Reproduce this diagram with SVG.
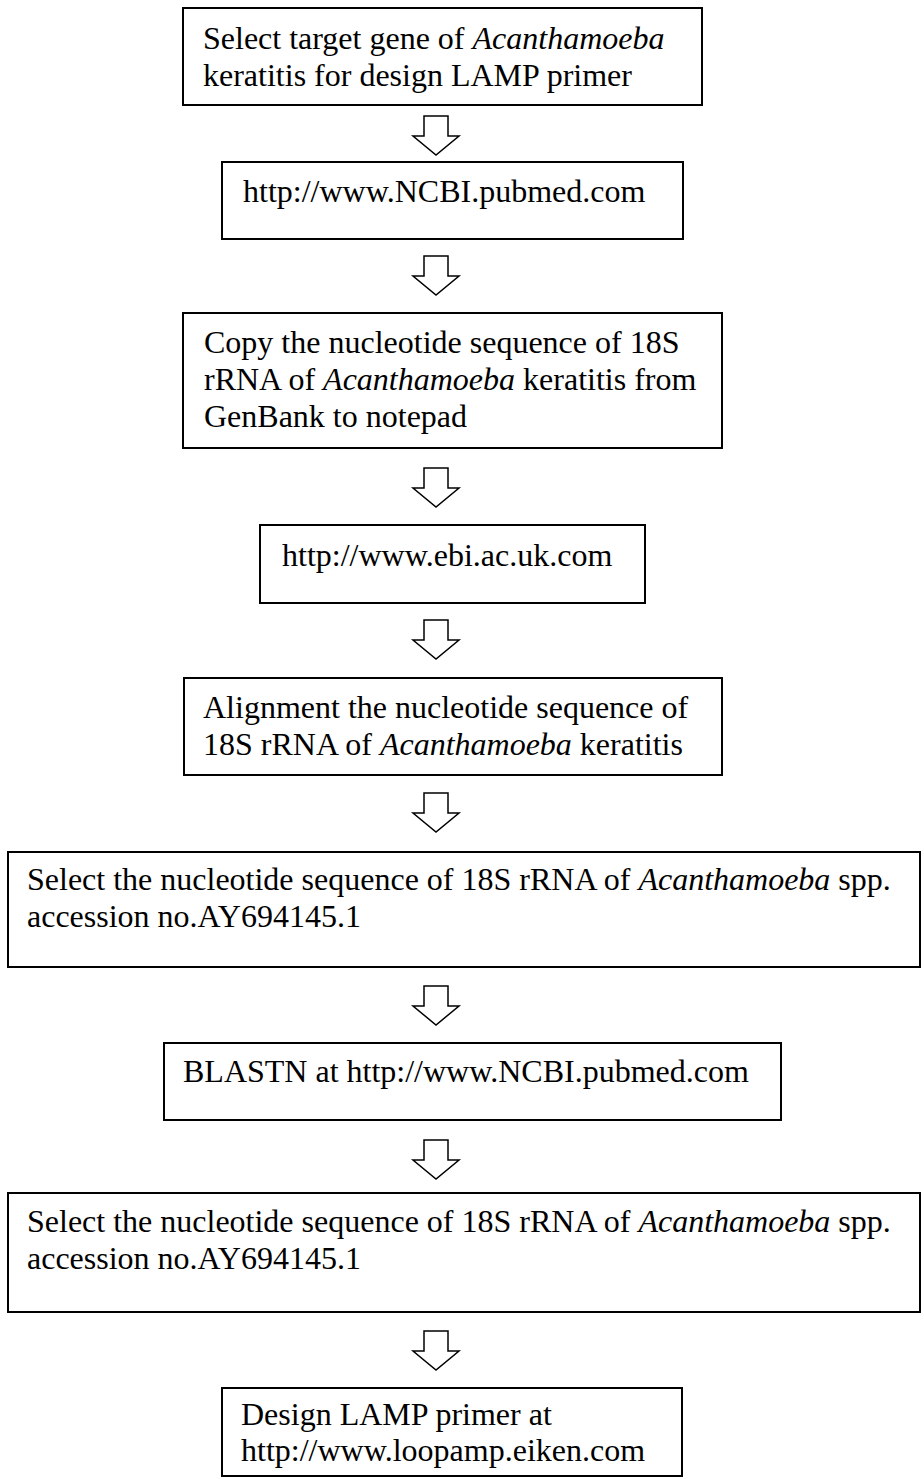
<svg xmlns="http://www.w3.org/2000/svg" width="924" height="1479" viewBox="0 0 924 1479">
<style>
.box{fill:#fff;stroke:#000;stroke-width:2}
.arr{fill:#fff;stroke:#000;stroke-width:1.5;stroke-linejoin:miter}
text{font-family:"Liberation Serif","Times New Roman",serif;font-size:32px;fill:#000}
.i{font-style:italic}
</style>
<rect width="924" height="1479" fill="#fff"/>
<g id="connectors">
<path class="arr" d="M424,116H448V136H459L436,155L413,136H424Z"/>
<path class="arr" d="M424,256H448V276H459L436,295L413,276H424Z"/>
<path class="arr" d="M424,468H448V488H459L436,507L413,488H424Z"/>
<path class="arr" d="M424,620H448V640H459L436,659L413,640H424Z"/>
<path class="arr" d="M424,793H448V813H459L436,832L413,813H424Z"/>
<path class="arr" d="M424,986H448V1006H459L436,1025L413,1006H424Z"/>
<path class="arr" d="M424,1140H448V1160H459L436,1179L413,1160H424Z"/>
<path class="arr" d="M424,1331H448V1351H459L436,1370L413,1351H424Z"/>
</g>
<g id="n1"><rect class="box" x="183" y="8" width="519" height="97"/>
<text x="203" y="49">Select target gene of <tspan class="i">Acanthamoeba</tspan></text>
<text x="203" y="86">keratitis for design LAMP primer</text></g>
<g id="n2"><rect class="box" x="222" y="162" width="461" height="77"/>
<text x="243" y="202">http://www.NCBI.pubmed.com</text></g>
<g id="n3"><rect class="box" x="183" y="313" width="539" height="135"/>
<text x="204" y="353">Copy the nucleotide sequence of 18S</text>
<text x="204" y="390">rRNA of <tspan class="i">Acanthamoeba</tspan> keratitis from</text>
<text x="204" y="427">GenBank to notepad</text></g>
<g id="n4"><rect class="box" x="260" y="525" width="385" height="78"/>
<text x="282" y="566">http://www.ebi.ac.uk.com</text></g>
<g id="n5"><rect class="box" x="184" y="678" width="538" height="97"/>
<text x="203" y="718">Alignment  the nucleotide sequence of</text>
<text x="203" y="755">18S rRNA of <tspan class="i">Acanthamoeba</tspan> keratitis</text></g>
<g id="n6"><rect class="box" x="8" y="852" width="912" height="115"/>
<text x="27" y="890">Select the nucleotide sequence of 18S rRNA of <tspan class="i">Acanthamoeba</tspan> spp.</text>
<text x="27" y="927">accession no.AY694145.1</text></g>
<g id="n7"><rect class="box" x="164" y="1043" width="617" height="77"/>
<text x="183" y="1082">BLASTN at http://www.NCBI.pubmed.com</text></g>
<g id="n8"><rect class="box" x="8" y="1193" width="912" height="119"/>
<text x="27" y="1232">Select the nucleotide sequence of 18S rRNA of <tspan class="i">Acanthamoeba</tspan> spp.</text>
<text x="27" y="1269">accession no.AY694145.1</text></g>
<g id="n9"><rect class="box" x="222" y="1388" width="460" height="88"/>
<text x="241" y="1425">Design LAMP primer at</text>
<text x="241" y="1461">http://www.loopamp.eiken.com</text></g>
</svg>
